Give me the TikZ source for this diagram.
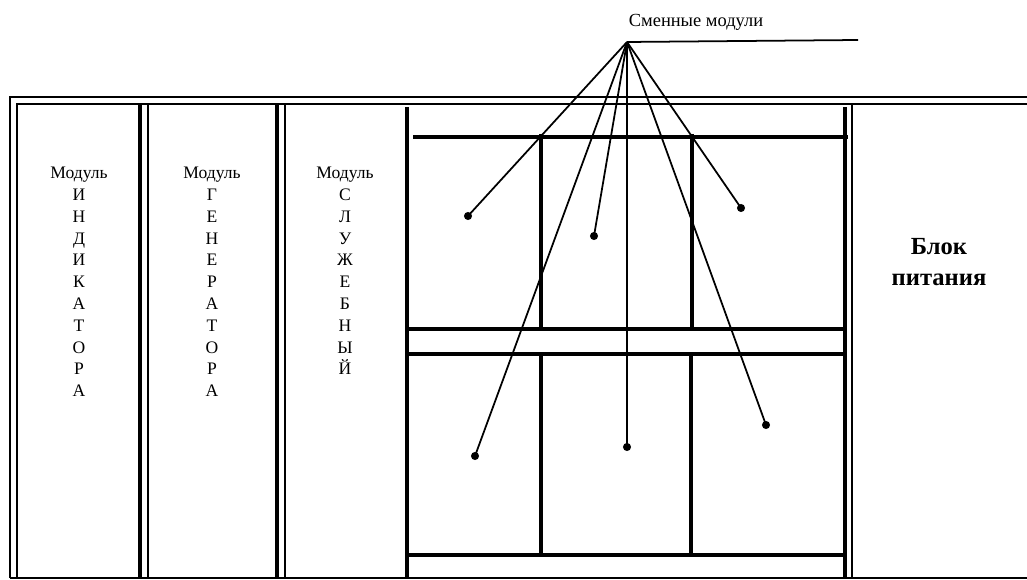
\documentclass[tikz,border=0pt]{standalone}
\usepackage{fontspec}
\setmainfont{Liberation Serif}
\usetikzlibrary{positioning}

\begin{document}
\begin{tikzpicture}[x=0.02cm,y=-0.02cm,
  every node/.style={font=\fontsize{10}{12.4}\selectfont,align=center,inner sep=0pt},
  frame/.style={line width=1pt},
  wall/.style={line width=2pt},
  slot/.style={line width=2.2pt},
  leader/.style={line width=1pt},
  dot/.style={circle,fill,minimum size=4.6pt,inner sep=0pt},
  vlabel/.style={anchor=north}
]
\useasboundingbox (0,0) rectangle (1027,580);

% outer double frame
\draw[frame] (10,578) -- (10,97) -- (1027,97);
\draw[frame] (17,578) -- (17,104) -- (1027,104);
\draw[frame] (10,578) -- (1027,578);

% module walls
\draw[wall] (140,104) -- (140,578);
\draw[frame] (148,104) -- (148,578);
\draw[wall] (277,104) -- (277,578);
\draw[frame] (285,104) -- (285,578);
\draw[frame] (852,104) -- (852,578);

% slots for exchangeable modules
\draw[slot] (407,107) -- (407,578);
\draw[slot] (845,107) -- (845,578);
\draw[slot] (413,137) -- (848,137);
\draw[slot] (541,134) -- (541,329);
\draw[slot] (692,134) -- (692,329);
\draw[slot] (407,329) -- (845,329);
\draw[slot] (407,354) -- (845,354);
\draw[slot] (541,354) -- (541,555);
\draw[slot] (691,354) -- (691,555);
\draw[slot] (407,555) -- (845,555);

\node[vlabel] (ind) at (79,167) {Модуль\\И\\Н\\Д\\И\\К\\А\\Т\\О\\Р\\А};
\node[vlabel] (gen) at (212,167) {Модуль\\Г\\Е\\Н\\Е\\Р\\А\\Т\\О\\Р\\А};
\node[vlabel] (srv) at (345,167) {Модуль\\С\\Л\\У\\Ж\\Е\\Б\\Н\\Ы\\Й};
\node[font=\bfseries\fontsize{14}{17.5}\selectfont] (psu) at (939,262) {Блок\\питания};

\node[font=\fontsize{10.5}{12.4}\selectfont] (title) at (696,22) {Сменные модули};
\coordinate (hub) at (627,42);
\coordinate (tail) at (858,40);
\draw[leader] (hub) -- (tail);

\node[dot] (m1) at (468,216) {};
\node[dot] (m2) at (594,236) {};
\node[dot] (m3) at (741,208) {};
\node[dot] (m4) at (475,456) {};
\node[dot] (m5) at (627,447) {};
\node[dot] (m6) at (766,425) {};
\foreach \m in {m1,m2,m3,m4,m5,m6}
  \draw[leader] (hub) -- (\m.center);
\end{tikzpicture}
\end{document}
